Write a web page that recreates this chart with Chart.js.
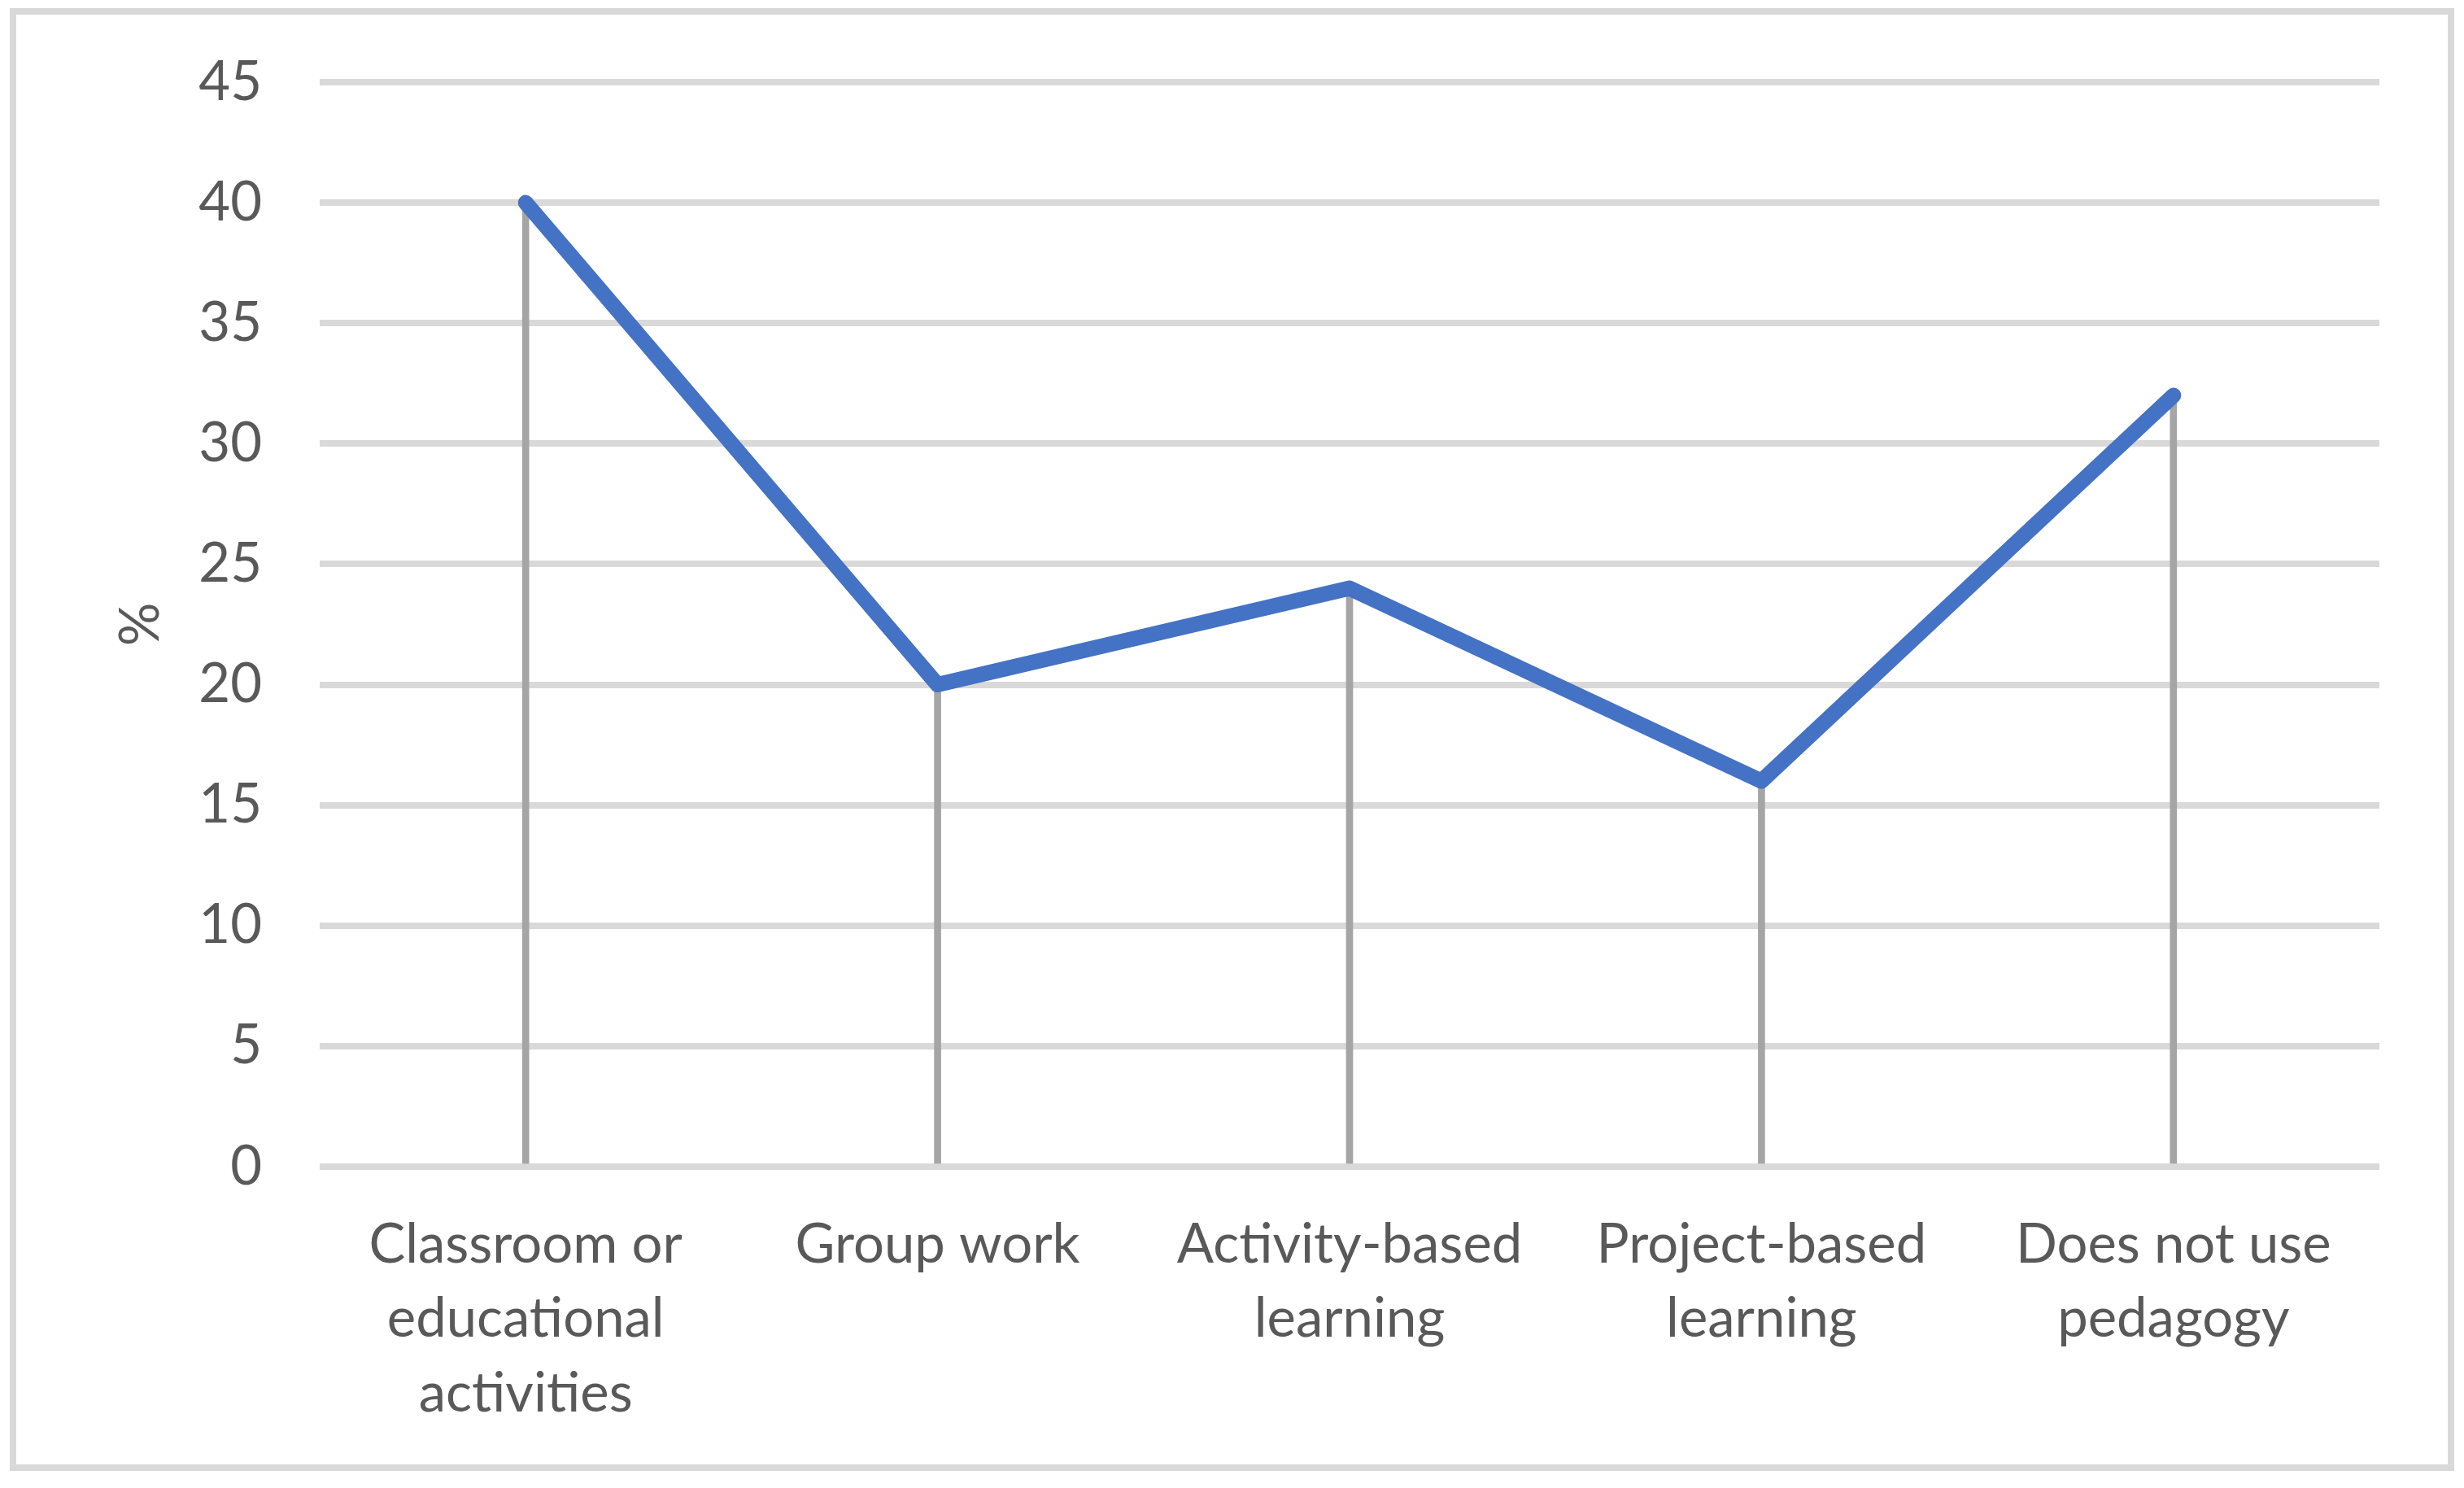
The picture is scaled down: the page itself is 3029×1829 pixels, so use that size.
<!DOCTYPE html>
<html>
<head>
<meta charset="utf-8">
<script src="https://cdn.jsdelivr.net/npm/chart.js@4/dist/chart.umd.min.js"></script>
<style>
    html, body { margin: 0; padding: 0; background: #fff; }
    #wrap { position: relative; width: 3029px; height: 1829px; }
    #frame {
        position: absolute; left: 12px; top: 10px; width: 3005px; height: 1798px;
        border: 8px solid #d9d9d9; box-sizing: border-box; pointer-events: none;
    }
</style>
</head>
<body>
<div id="wrap">
    <canvas id="chart" width="3029" height="1829"></canvas>
    <div id="frame"></div>
</div>
<script>
const categories = [
    ['Classroom or', 'educational', 'activities'],
    'Group work',
    ['Activity-based', 'learning'],
    ['Project-based', 'learning'],
    ['Does not use', 'pedagogy']
];
const percentValues = [40, 20, 24, 16, 32];
const yTicks = { min: 0, max: 45, step: 5 };
const yTitle = '%';

const textColor = '#595959';
const fontFamily = 'Lato, "Open Sans", sans-serif';

const ctx = document.getElementById('chart').getContext('2d');
new Chart(ctx, {
    data: {
        labels: categories,
        datasets: [
            {
                type: 'line',
                data: percentValues,
                borderColor: '#4472c4',
                borderWidth: 19,
                borderJoinStyle: 'round',
                borderCapStyle: 'round',
                pointRadius: 0,
                tension: 0,
                fill: false,
                order: 0
            },
            {
                // drop lines from each point down to the axis
                type: 'bar',
                data: percentValues,
                backgroundColor: '#a5a5a5',
                barThickness: 8,
                order: 1
            }
        ]
    },
    options: {
        responsive: false,
        animation: false,
        layout: { padding: { left: 0, top: 101, right: 104, bottom: 0 } },
        plugins: { legend: { display: false }, tooltip: { enabled: false } },
        scales: {
            x: {
                grid: { display: false, drawTicks: false },
                border: { display: false },
                ticks: {
                    color: textColor,
                    padding: 50,
                    maxRotation: 0,
                    autoSkip: false,
                    font: { family: fontFamily, size: 67, lineHeight: 1.37 }
                },
                afterFit(scale) { scale.height = 395; }
            },
            y: {
                min: yTicks.min,
                max: yTicks.max,
                grid: { color: '#d9d9d9', lineWidth: 8, drawTicks: false },
                border: { display: false },
                ticks: {
                    stepSize: yTicks.step,
                    color: textColor,
                    padding: 71,
                    font: { family: fontFamily, size: 67 }
                },
                title: {
                    display: true,
                    text: yTitle,
                    color: textColor,
                    padding: { top: 133, bottom: 0 },
                    font: { family: fontFamily, size: 67, lineHeight: 1.2 }
                },
                afterFit(scale) {
                    scale.width = 393;
                    // tick padding should not push the plot area down
                    scale.paddingTop = 0;
                    scale.paddingBottom = 0;
                }
            }
        }
    }
});
</script>
</body>
</html>
